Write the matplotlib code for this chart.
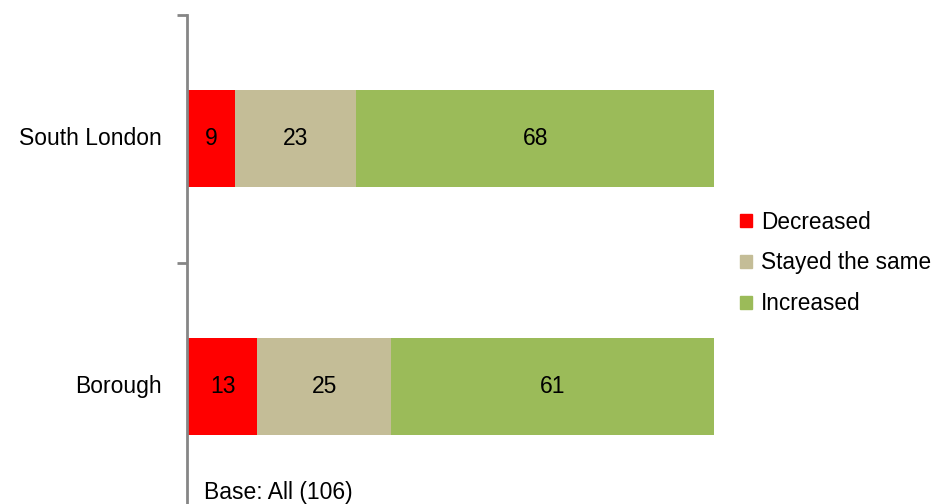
import matplotlib
matplotlib.use('Agg')
import matplotlib.pyplot as plt
import matplotlib.patches as mpatches

plt.rcParams['font.family'] = ['Liberation Sans', 'DejaVu Sans']

categories = ['South London', 'Borough']
series_names = ['Decreased', 'Stayed the same', 'Increased']
decreased = [9, 13.2]
stayed = [23, 25.4]
increased = [68, 61.4]
colors = ['#FF0000', '#C4BD97', '#9BBB59']

FS = 16.5
W, H = 941, 504
fig = plt.figure(figsize=(W / 100, H / 100), dpi=100)
# axes placed in pixels: x 188..714, y 15..510
ax = fig.add_axes([188 / W, (H - 510) / H, 526 / W, 495 / H])

ypos = [1.5, 0.5]
left = [0, 0]
for vals, col in zip([decreased, stayed, increased], colors):
    bars = ax.barh(ypos, vals, left=left, height=0.39, color=col)
    for b, v in zip(bars, vals):
        ax.text(b.get_x() + b.get_width() / 2, b.get_y() + b.get_height() / 2,
                f'{round(v)}', ha='center', va='center', fontsize=FS, color='black')
    left = [l + v for l, v in zip(left, vals)]

ax.set_xlim(0, 100)
ax.set_ylim(0, 2)
ax.set_xticks([])
ax.set_yticks([0, 1, 2])
ax.set_yticklabels([])
ax.tick_params(axis='y', length=7, width=2, color='#868686', direction='out')
for lbl, y in zip(categories, ypos):
    ax.annotate(lbl, (0, y), xytext=(-19, 0), textcoords='offset points',
                ha='right', va='center', fontsize=FS)
for s in ['top', 'right', 'bottom']:
    ax.spines[s].set_visible(False)
ax.spines['left'].set_color('#868686')
ax.spines['left'].set_linewidth(2)
ax.spines['left'].set_position(('outward', 1))

handles = [mpatches.Patch(color=c, label=n) for c, n in zip(colors, series_names)]
fig.legend(handles=handles, loc='center left', bbox_to_anchor=(720 / W, 1 - 263 / H),
           frameon=False, fontsize=16.3, handlelength=0.52, handleheight=0.52,
           handletextpad=0.4, labelspacing=0.78)

fig.text(204 / W, 1 - 492 / H, 'Base: All (106)', fontsize=FS, va='center')

fig.savefig('out.png', dpi=100)
